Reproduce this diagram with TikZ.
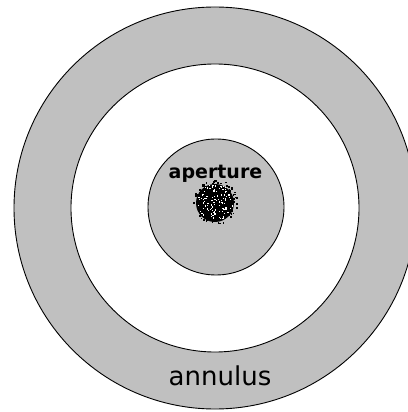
\documentclass[tikz,border=0pt]{standalone}
\usepackage{fontspec}
\setmainfont{DejaVu Sans}
\usepackage{tikz}
\usetikzlibrary{positioning,calc}
\definecolor{ringgray}{RGB}{192,192,192}

\begin{document}
\begin{tikzpicture}[
    x=1pt, y=1pt,
    disc/.style={circle, draw, line width=0.9pt, inner sep=0pt},
    label/.style={anchor=base, inner sep=0pt}
]
\useasboundingbox (-215,-204) rectangle (192,208);
\node[disc, fill=ringgray, minimum size=402pt] (outer) at (0,0) {};
\node[disc, fill=white, minimum size=288pt] (middle) at (0,0) {};
\node[disc, fill=ringgray, minimum size=136pt] (inner) at (1,1) {};
\node[circle, fill=black, minimum size=38pt, inner sep=0pt] (blob) at (0,5) {};
% rough edge and speckles in the aperture
\pgfmathsetseed{7}
\foreach \i in {1,...,60} {
  \pgfmathsetmacro{\ang}{360*rnd}
  \pgfmathsetmacro{\rad}{18+4*rnd}
  \fill[black] ($(blob.center)+(\ang:\rad)$) rectangle ++(1.6,1.6);
}
\foreach \i in {1,...,110} {
  \pgfmathsetmacro{\ang}{360*rnd}
  \pgfmathsetmacro{\rad}{18*sqrt(rnd)}
  \fill[white] ($(blob.center)+(\ang:\rad)$) rectangle ++(1.2,1.2);
}
\node[label, font=\bfseries\fontsize{19}{19}\selectfont] (aperture) at (0.5,29) {aperture};
\node[label, font=\fontsize{26}{26}\selectfont] (annulus) at (5,-177) {annulus};
\end{tikzpicture}
\end{document}
